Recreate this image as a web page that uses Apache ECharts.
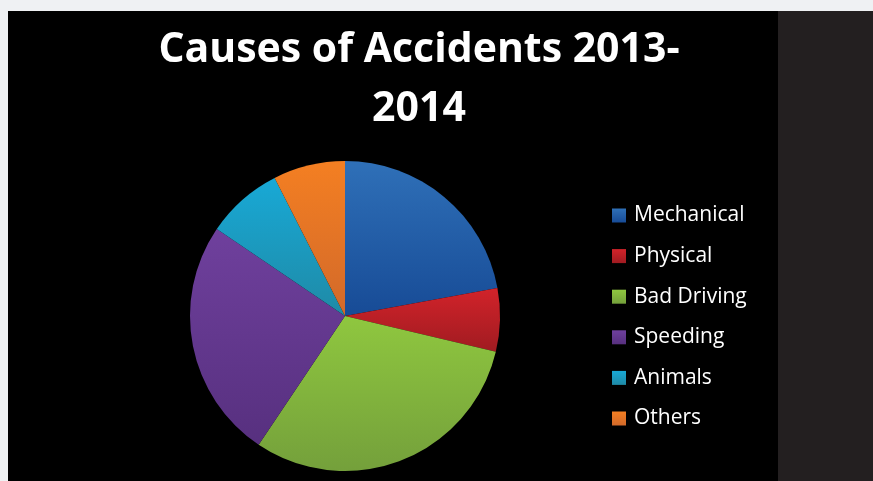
<!DOCTYPE html>
<html>
<head>
<meta charset="utf-8">
<script src="https://cdn.jsdelivr.net/npm/echarts@6/dist/echarts.min.js"></script>
<style>
  html, body { margin: 0; padding: 0; }
  body { width: 873px; height: 481px; background: #eff1f3; position: relative; overflow: hidden; }
  #chart { position: absolute; left: 8px; top: 11px; width: 770px; height: 470px; background: #000; }
  #side { position: absolute; left: 778px; top: 11px; width: 95px; height: 470px; background: #231f20; }
</style>
</head>
<body>
<div id="chart"></div>
<div id="side"></div>
<script>
// share of accidents (percent)
const categories = ['Mechanical', 'Physical', 'Bad Driving', 'Speeding', 'Animals', 'Others'];
const values = [22.1, 6.6, 30.7, 25.1, 8.0, 7.5];
// top / bottom shade of each slice
const topColors = ['#2f70b8', '#d2232a', '#8fc73f', '#6f409d', '#18a9d6', '#f47f22'];
const bottomColors = ['#174b96', '#a01b21', '#74a03b', '#57307f', '#1f8aa6', '#d2692a'];

const chart = echarts.init(document.getElementById('chart'));

const grad = (i) => new echarts.graphic.LinearGradient(0, 0, 0, 1, [
  { offset: 0, color: topColors[i] },
  { offset: 1, color: bottomColors[i] }
]);

const option = {
  backgroundColor: '#000',
  animation: false,
  title: {
    text: 'Causes of Accidents 2013-\n2014',
    left: 406,
    top: 5,
    textAlign: 'center',
    textStyle: {
      color: '#fff',
      fontFamily: 'Open Sans',
      fontWeight: 'bold',
      fontSize: 41,
      lineHeight: 59
    }
  },
  legend: {
    orient: 'vertical',
    left: 599,
    top: 189,
    itemWidth: 14,
    itemHeight: 14,
    itemGap: 19.6,
    icon: 'rect',
    data: categories,
    textStyle: {
      color: '#fff',
      fontFamily: 'Open Sans',
      fontSize: 21,
      lineHeight: 21,
      padding: [0, 0, 0, 3]
    }
  },
  series: [{
    type: 'pie',
    center: [337, 305],
    radius: 155,
    startAngle: 90,
    clockwise: true,
    label: { show: false },
    labelLine: { show: false },
    itemStyle: { borderWidth: 0 },
    emphasis: { disabled: true },
    data: categories.map((name, i) => ({
      name: name,
      value: values[i],
      itemStyle: { color: grad(i) }
    }))
  }]
};

chart.setOption(option);
</script>
</body>
</html>
